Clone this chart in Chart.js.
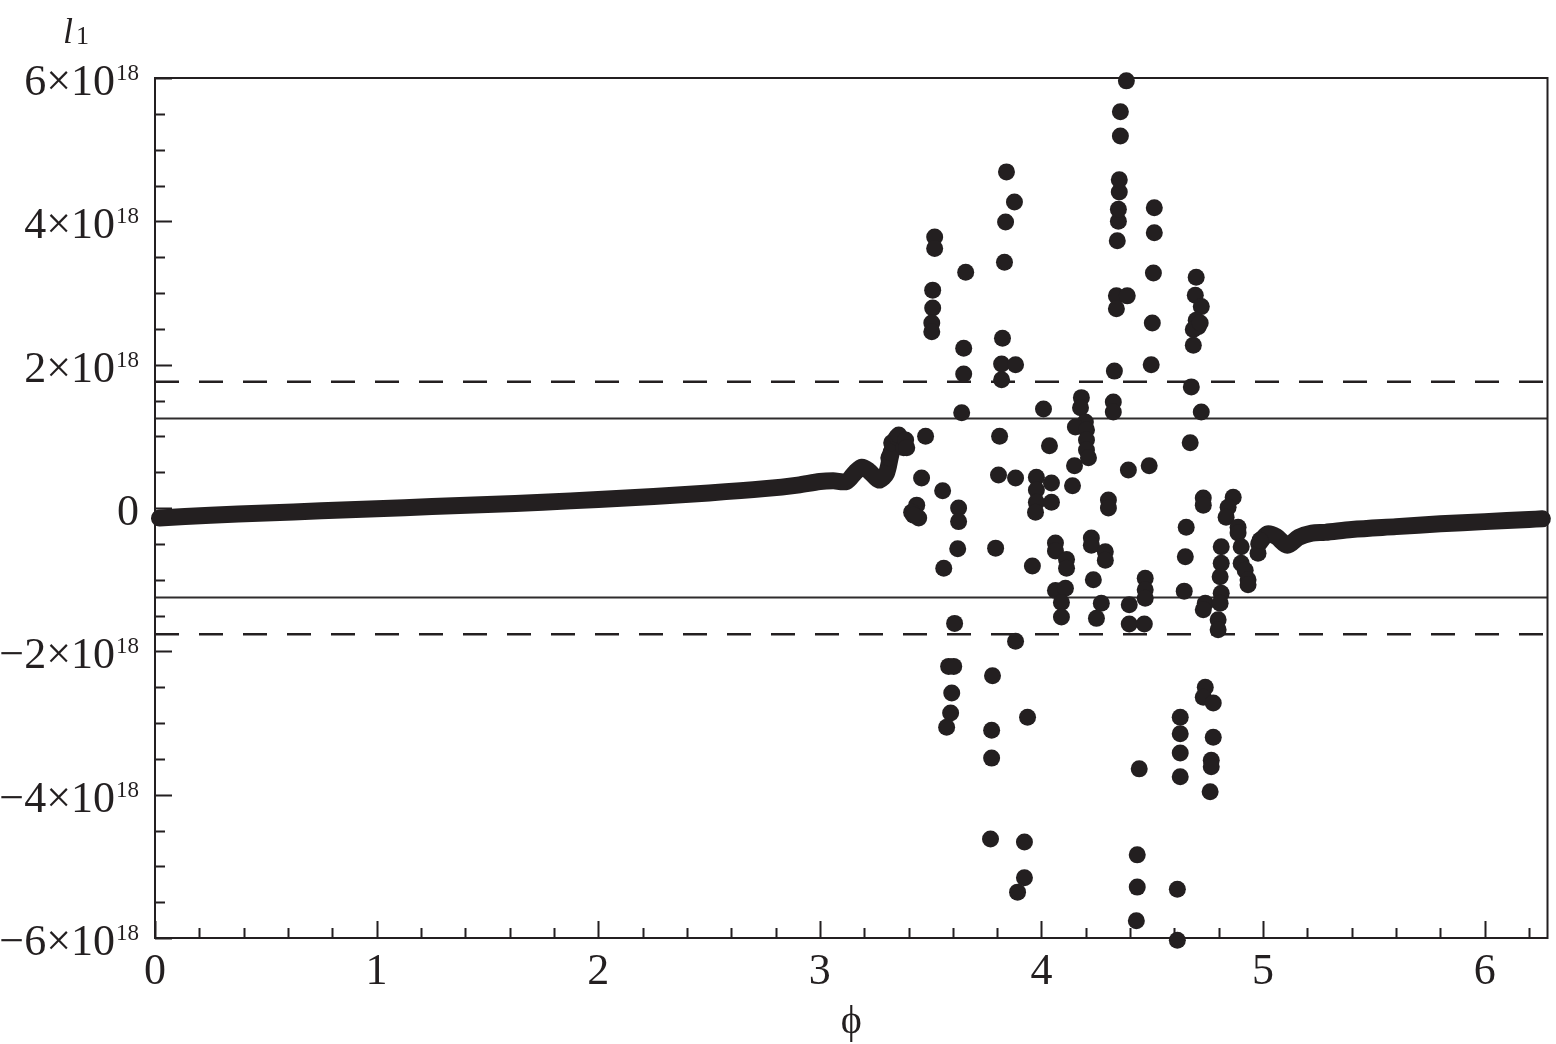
<!DOCTYPE html>
<html>
<head>
<meta charset="utf-8">
<script src="https://cdn.jsdelivr.net/npm/chart.js@4.4.1/dist/chart.umd.min.js"></script>
<style>
  html, body { margin:0; padding:0; background:#fff; }
  #wrap { position:relative; width:1556px; height:1044px; }
</style>
</head>
<body>
<div id="wrap"><canvas id="c"></canvas></div>
<script>
// phi runs over one full turn; l1 values are in units of 1e18
const PHI_MAX = 6.2832;

// smooth part left of the burst
const curveLeftPhi = [0.02, 0.25, 0.5, 0.75, 1.0, 1.25, 1.5, 1.75, 2.0, 2.25, 2.5, 2.75, 2.9, 3.0, 3.06, 3.12, 3.16, 3.19, 3.22, 3.25, 3.27, 3.30, 3.32, 3.34];
const curveLeftL1  = [-0.14, -0.10, -0.07, -0.04, -0.01, 0.02, 0.05, 0.08, 0.12, 0.16, 0.21, 0.27, 0.32, 0.37, 0.38, 0.37, 0.50, 0.57, 0.52, 0.43, 0.39, 0.48, 0.74, 0.95];

// smooth part right of the burst
const curveRightPhi = [4.98, 5.02, 5.06, 5.11, 5.16, 5.22, 5.28, 5.4, 5.6, 5.8, 6.0, 6.2, 6.26];
const curveRightL1  = [-0.50, -0.36, -0.40, -0.52, -0.41, -0.35, -0.34, -0.30, -0.26, -0.22, -0.19, -0.16, -0.15];

// scattered points in the burst region
const burstPhi = [
  3.311, 3.320, 3.324, 3.347, 3.356, 3.378, 3.387, 3.392, 3.459, 3.477,
  3.437, 3.414, 3.446, 3.423, 3.554, 3.509, 3.509, 3.505, 3.505, 3.518,
  3.518, 3.559, 3.622, 3.626, 3.626, 3.640, 3.649, 3.649, 3.658, 3.608,
  3.581, 3.604, 3.595, 3.590, 3.572, 3.779, 3.775, 3.775, 3.770, 3.793,
  3.806, 3.811, 3.824, 3.820, 3.883, 3.820, 3.833, 3.838, 3.842, 3.878,
  3.883, 3.883, 3.937, 3.923, 3.923, 3.892, 3.959, 3.977, 3.977, 3.977,
  3.973, 4.009, 4.036, 4.045, 4.045, 4.063, 4.063, 4.113, 4.113, 4.063,
  4.108, 4.090, 4.090, 4.149, 4.140, 4.180, 4.176, 4.198, 4.153, 4.203,
  4.203, 4.203, 4.212, 4.225, 4.225, 4.288, 4.288, 4.234, 4.270, 4.248,
  4.302, 4.302, 4.324, 4.324, 4.329, 4.338, 4.387, 4.338, 4.342, 4.347,
  4.347, 4.351, 4.351, 4.356, 4.356, 4.383, 4.392, 4.396, 4.396, 4.464,
  4.468, 4.468, 4.468, 4.441, 4.432, 4.432, 4.428, 4.486, 4.495, 4.500,
  4.505, 4.509, 4.509, 4.613, 4.613, 4.626, 4.626, 4.626, 4.626, 4.644,
  4.649, 4.653, 4.671, 4.676, 4.685, 4.698, 4.694, 4.721, 4.698, 4.707,
  4.685, 4.716, 4.721, 4.730, 4.730, 4.739, 4.730, 4.739, 4.730, 4.775,
  4.775, 4.766, 4.766, 4.761, 4.797, 4.797, 4.811, 4.811, 4.806, 4.811,
  4.806, 4.865, 4.842, 4.833, 4.887, 4.887, 4.901, 4.901, 4.919, 4.932,
  4.932, 4.977, 4.986
];
const burstL1 = [
  0.70, 0.77, 0.91, 0.99, 1.02, 0.84, 0.95, 0.84, 0.42, 1.00,
  0.04, -0.06, -0.14, -0.10, 0.24, 3.04, 2.79, 2.58, 2.46, 3.78,
  3.62, -0.84, -0.57, 0.00, -0.19, 1.33, 2.23, 1.87, 3.29, -1.61,
  -2.21, -2.21, -2.58, -2.86, -3.06, -2.34, -3.10, -3.49, -4.62, -0.56,
  0.46, 1.00, 2.37, 2.01, 2.00, 1.79, 3.43, 3.99, 4.69, 4.27,
  0.42, -1.86, -2.92, -4.66, -5.16, -5.36, -0.81, 0.43, 0.25, 0.08,
  -0.06, 1.38, 0.87, 0.35, 0.08, -0.49, -0.60, -0.72, -0.84, -1.15,
  -1.12, -1.32, -1.52, 0.59, 0.31, 1.54, 1.40, 1.20, 1.13, 1.09,
  0.95, 0.81, 0.70, -0.42, -0.52, -0.61, -0.73, -1.00, -1.33, -1.54,
  0.11, 0.00, 1.48, 1.34, 1.91, 2.96, 2.96, 2.78, 3.73, 4.00,
  4.17, 4.41, 4.58, 5.19, 5.53, 5.96, 0.53, -1.35, -1.62, -1.62,
  -0.98, -1.14, -1.26, -3.64, -4.84, -5.29, -5.76, 0.59, 2.00, 2.58,
  3.28, 3.84, 4.19, -5.32, -6.03, -2.92, -3.15, -3.42, -3.75, -1.16,
  -0.68, -0.27, 0.91, 1.69, 2.27, 3.22, 2.97, 2.81, 2.62, 2.53,
  2.49, 2.58, 1.34, 0.14, 0.04, -1.33, -1.42, -2.50, -2.64, -2.72,
  -3.20, -3.52, -3.61, -3.96, -1.56, -1.70, -0.54, -0.77, -0.96, -1.19,
  -1.33, 0.15, 0.01, -0.13, -0.27, -0.35, -0.54, -0.77, -0.87, -1.00,
  -1.07, -0.63, -0.45
];

// reference levels
const solidLevels  = [1.25, -1.25];
const dashedLevels = [1.76, -1.76];

// axis ticks
const xTickValues = [0, 1, 2, 3, 4, 5, 6];
const yTickValues = [-6, -4, -2, 0, 2, 4, 6];

const INK = '#231f20';
const SERIF = '"Liberation Serif", "Times New Roman", serif';
const LABEL_PX = 44;
const EXP_PX = 23;

const toPts = (xs, ys) => xs.map((x, i) => ({ x, y: ys[i] }));
const level = v => [{ x: 0, y: v }, { x: PHI_MAX, y: v }];

const lineSet = (data, extra) => Object.assign({
  data, showLine: true, pointRadius: 0, borderColor: INK, borderWidth: 2,
  fill: false, clip: false, order: 2
}, extra);

// frame, inward ticks, y labels with exponents, y title
const axisDeco = {
  id: 'axisDeco',
  afterDraw(chart) {
    const { ctx, chartArea: a, scales: { x, y } } = chart;
    ctx.save();
    ctx.strokeStyle = INK;
    ctx.lineWidth = 2;
    ctx.strokeRect(a.left, a.top, a.right - a.left, a.bottom - a.top);

    ctx.beginPath();
    for (let i = 0; i * 0.2 <= PHI_MAX; i++) {
      const px = Math.round(x.getPixelForValue(i * 0.2)) + 0.5;
      const len = i % 5 === 0 ? 17 : 10;
      ctx.moveTo(px, a.bottom);
      ctx.lineTo(px, a.bottom - len);
    }
    for (let i = -12; i <= 12; i++) {
      const py = Math.round(y.getPixelForValue(i * 0.5)) + 0.5;
      const len = i % 4 === 0 ? 17 : 10;
      ctx.moveTo(a.left, py);
      ctx.lineTo(a.left + len, py);
    }
    ctx.stroke();

    ctx.fillStyle = INK;
    ctx.textBaseline = 'alphabetic';
    ctx.textAlign = 'right';
    const right = 139;
    for (const v of yTickValues) {
      const py = y.getPixelForValue(v);
      const base = py + 17;
      if (v === 0) {
        ctx.font = LABEL_PX + 'px ' + SERIF;
        ctx.fillText('0', right, base);
        continue;
      }
      const mant = (v < 0 ? '\u2212' : '') + Math.abs(v) + '\u00d710';
      ctx.font = EXP_PX + 'px ' + SERIF;
      ctx.fillText('18', right, base - 15);
      const ew = ctx.measureText('18').width;
      ctx.font = LABEL_PX + 'px ' + SERIF;
      ctx.fillText(mant, right - ew - 1, base);
    }

    // y axis title: italic l with subscript 1
    ctx.textAlign = 'left';
    ctx.font = 'italic 36px ' + SERIF;
    ctx.fillText('l', 63, 43);
    const lw = ctx.measureText('l').width;
    ctx.font = '26px ' + SERIF;
    ctx.fillText('1', 63 + lw + 3, 44);
    ctx.restore();
  }
};

new Chart(document.getElementById('c'), {
  type: 'scatter',
  data: {
    datasets: [
      {
        data: toPts(burstPhi, burstL1), pointRadius: 8.5, pointBorderWidth: 0,
        backgroundColor: INK, borderColor: INK, clip: false, order: 0
      },
      lineSet(toPts(curveLeftPhi, curveLeftL1), { borderWidth: 17, borderCapStyle: 'round', borderJoinStyle: 'round', tension: 0.3, order: 1 }),
      lineSet(toPts(curveRightPhi, curveRightL1), { borderWidth: 17, borderCapStyle: 'round', borderJoinStyle: 'round', tension: 0.3, order: 1 }),
      lineSet(level(solidLevels[0]), { borderColor: '#2f2c2d' }),
      lineSet(level(solidLevels[1]), { borderColor: '#2f2c2d' }),
      lineSet(level(dashedLevels[0]), { borderWidth: 2.5, borderDash: [24, 20] }),
      lineSet(level(dashedLevels[1]), { borderWidth: 2.5, borderDash: [24, 20] })
    ]
  },
  options: {
    responsive: true,
    maintainAspectRatio: false,
    animation: false,
    devicePixelRatio: 1,
    events: [],
    layout: { padding: { top: 78, right: 6, left: 0, bottom: 0 } },
    plugins: { legend: { display: false }, tooltip: { enabled: false } },
    scales: {
      x: {
        type: 'linear', min: 0, max: PHI_MAX,
        grid: { display: false, drawTicks: false },
        border: { display: false },
        afterBuildTicks: s => { s.ticks = xTickValues.map(v => ({ value: v })); },
        afterFit: s => { s.height = 106; },
        ticks: {
          color: INK, padding: 12, maxRotation: 0, autoSkip: false,
          font: { family: SERIF, size: LABEL_PX, lineHeight: 1 },
          callback: v => String(v)
        },
        title: {
          display: true, text: '\u03d5', color: INK,
          font: { family: SERIF, size: 40, lineHeight: 1 },
          padding: { top: 0, bottom: 2 }
        }
      },
      y: {
        type: 'linear', min: -6, max: 6,
        grid: { display: false, drawTicks: false },
        border: { display: false },
        ticks: { display: false },
        afterFit: s => { s.width = 155; }
      }
    }
  },
  plugins: [axisDeco]
});
</script>
</body>
</html>
